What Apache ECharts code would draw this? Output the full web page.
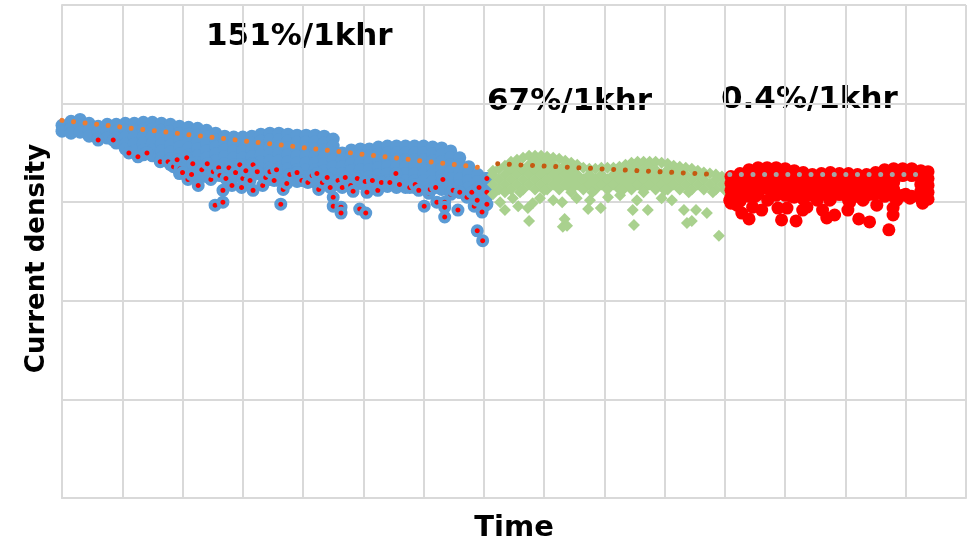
<!DOCTYPE html>
<html>
<head>
<meta charset="utf-8">
<script src="https://cdn.jsdelivr.net/npm/echarts@6/dist/echarts.min.js"></script>
<style>html,body{margin:0;padding:0;background:#fff;}#c{width:969px;height:541px;}</style>
</head>
<body>
<div id="c"></div>
<script>
// Time axis in hours, current density in arbitrary units
var xTicks = { min: 0, max: 1500, step: 100 };
var yTicks = { min: 0, max: 5, step: 1 };

// Stage 1 (151%/1khr) dense body: [time, density, density, ...]
var blueBodyCols = [
  [0, 3.78, 3.72], [15, 3.82, 3.75, 3.70], [30, 3.84, 3.77, 3.71], [45, 3.80, 3.73, 3.67],
  [60, 3.77, 3.71, 3.65], [75, 3.79, 3.72, 3.65], [90, 3.79, 3.72, 3.65, 3.60],
  [105, 3.80, 3.73, 3.66, 3.59, 3.54], [120, 3.80, 3.73, 3.66, 3.59, 3.52],
  [135, 3.81, 3.74, 3.67, 3.60, 3.53, 3.48], [150, 3.81, 3.74, 3.67, 3.60, 3.53, 3.47],
  [165, 3.80, 3.73, 3.66, 3.59, 3.52, 3.45], [180, 3.79, 3.72, 3.65, 3.58, 3.51, 3.44, 3.38],
  [195, 3.77, 3.70, 3.63, 3.56, 3.49, 3.42, 3.35, 3.29], [210, 3.76, 3.69, 3.62, 3.55, 3.48, 3.41, 3.34, 3.28],
  [225, 3.75, 3.68, 3.61, 3.54, 3.47, 3.40, 3.33, 3.27], [240, 3.73, 3.66, 3.59, 3.52, 3.45, 3.38, 3.31, 3.26],
  [255, 3.70, 3.63, 3.56, 3.49, 3.42, 3.35, 3.28], [270, 3.67, 3.60, 3.53, 3.46, 3.39, 3.32, 3.27],
  [285, 3.66, 3.59, 3.52, 3.45, 3.38, 3.31, 3.26], [300, 3.66, 3.59, 3.52, 3.45, 3.38, 3.31, 3.26],
  [315, 3.67, 3.60, 3.53, 3.46, 3.39, 3.32, 3.27], [330, 3.69, 3.62, 3.55, 3.48, 3.41, 3.34, 3.28],
  [345, 3.70, 3.63, 3.56, 3.49, 3.42, 3.35, 3.28, 3.23], [360, 3.70, 3.63, 3.56, 3.49, 3.42, 3.35, 3.28, 3.22],
  [375, 3.69, 3.62, 3.55, 3.48, 3.41, 3.34, 3.27, 3.22], [390, 3.68, 3.61, 3.54, 3.47, 3.40, 3.33, 3.26, 3.21],
  [405, 3.68, 3.61, 3.54, 3.47, 3.40, 3.33, 3.26, 3.21], [420, 3.68, 3.61, 3.54, 3.47, 3.40, 3.33, 3.26, 3.20],
  [435, 3.67, 3.60, 3.53, 3.46, 3.39, 3.32, 3.25, 3.19], [450, 3.64, 3.57, 3.50, 3.43, 3.36, 3.29, 3.22, 3.17],
  [465, 3.50, 3.43, 3.36, 3.29, 3.22, 3.17], [480, 3.53, 3.46, 3.39, 3.32, 3.25, 3.18],
  [495, 3.54, 3.47, 3.40, 3.33, 3.26, 3.19], [510, 3.54, 3.47, 3.40, 3.33, 3.26, 3.19],
  [525, 3.56, 3.49, 3.42, 3.35, 3.28, 3.21, 3.16], [540, 3.57, 3.50, 3.43, 3.36, 3.29, 3.22, 3.16],
  [555, 3.57, 3.50, 3.43, 3.36, 3.29, 3.22, 3.15], [570, 3.57, 3.50, 3.43, 3.36, 3.29, 3.22, 3.15],
  [585, 3.57, 3.50, 3.43, 3.36, 3.29, 3.22, 3.15], [600, 3.57, 3.50, 3.43, 3.36, 3.29, 3.22, 3.15],
  [615, 3.56, 3.49, 3.42, 3.35, 3.28, 3.21, 3.14], [630, 3.55, 3.48, 3.41, 3.34, 3.27, 3.20, 3.13],
  [645, 3.52, 3.45, 3.38, 3.31, 3.24, 3.17, 3.10], [660, 3.45, 3.38, 3.31, 3.24, 3.17, 3.10],
  [675, 3.36, 3.29, 3.22, 3.15, 3.08], [690, 3.28, 3.21, 3.14, 3.07, 3.01],
  [703, 3.24, 3.17, 3.10, 3.03, 2.97]
];
// Stage 1 lower scattered points: [time, density]
var blueLowPoints = [
  [60,3.63],[85,3.63],[111,3.50],[126,3.46],[141,3.50],[163,3.41],[176,3.41],[185,3.36],[191,3.43],
  [196,3.34],[200,3.30],[207,3.45],[209,3.23],[215,3.28],[217,3.39],[226,3.17],[232,3.33],[241,3.39],
  [247,3.23],[251,3.31],[254,2.97],[260,3.35],[262,3.27],[267,3.12],[267,3.00],[272,3.24],[277,3.35],
  [282,3.17],[288,3.30],[295,3.38],[298,3.15],[300,3.24],[305,3.32],[312,3.22],[317,3.38],[317,3.12],
  [324,3.31],[333,3.17],[338,3.25],[345,3.31],[352,3.22],[356,3.33],[363,2.98],[367,3.13],[373,3.19],
  [378,3.28],[390,3.30],[398,3.22],[408,3.20],[415,3.27],[423,3.29],[426,3.13],
  [432,3.20],[440,3.25],[445,3.15],[450,3.05],[450,2.96],[458,3.22],[463,2.95],[463,2.89],[465,3.15],
  [470,3.25],[479,3.17],[483,3.11],[490,3.24],[494,2.93],[503,3.21],[504,2.89],[506,3.10],[515,3.22],
  [524,3.12],[530,3.20],[544,3.20],[554,3.29],[560,3.18],[577,3.15],[586,3.18],[592,3.12],[601,2.96],
  [609,3.09],[611,3.13],[620,3.15],[622,3.00],[632,3.23],[635,3.00],[635,2.95],[635,2.85],[645,3.08],
  [649,3.12],[657,2.92],[660,3.10],[672,3.05],[680,3.10],[684,2.96],[689,3.02],[689,2.71],[692,3.15],
  [697,2.90],[698,2.61],[705,3.24],[705,3.10],[705,2.98]
];
// Stage 2 (67%/1khr) dense body
var greenBodyCols = [
  [715,3.32,3.28,3.18,3.08],[725,3.34,3.23,3.13],[735,3.37,3.28,3.18,3.10],[745,3.41,3.33,3.23,3.13],
  [755,3.43,3.38,3.28,3.18],[765,3.45,3.33,3.23,3.13],[775,3.47,3.38,3.28,3.18],[785,3.47,3.43,3.33,3.23,3.13],
  [795,3.47,3.38,3.28,3.18],[805,3.46,3.43,3.33,3.23,3.13],[815,3.45,3.38,3.28,3.18],[825,3.44,3.33,3.23,3.13],
  [835,3.42,3.38,3.28,3.18],[845,3.40,3.33,3.23,3.13],[855,3.38,3.28,3.18],[865,3.35,3.23,3.13],
  [875,3.34,3.28,3.18],[885,3.34,3.23,3.13],[895,3.35,3.28,3.18],[905,3.35,3.23,3.13],[915,3.35,3.28,3.18],
  [925,3.36,3.33,3.23,3.13],[935,3.38,3.28,3.18],[945,3.40,3.33,3.23,3.13],[955,3.41,3.38,3.28,3.18],
  [965,3.41,3.33,3.23,3.13],[975,3.41,3.38,3.28,3.18],[985,3.41,3.33,3.23,3.13],[995,3.40,3.28,3.18],
  [1005,3.39,3.33,3.23,3.13],[1015,3.37,3.28,3.18],[1025,3.36,3.33,3.23,3.13],[1035,3.35,3.28,3.18],
  [1045,3.34,3.23,3.13],[1055,3.32,3.28,3.18],[1065,3.30,3.23,3.13],[1075,3.29,3.18],[1085,3.28,3.23,3.13],
  [1095,3.26,3.18],[1105,3.24,3.18]
];
var greenLowPoints = [
  [727,3.00],[735,2.92],[748,3.04],[757,2.96],[760,3.10],[773,2.94],[775,2.81],[781,2.99],[793,3.04],
  [800,3.12],[815,3.02],[830,3.00],[831,2.75],[834,2.83],[838,2.76],[845,3.10],[854,3.04],[873,2.93],
  [876,3.02],[880,3.10],[894,2.94],[906,3.05],[926,3.07],[930,3.12],[947,2.92],[949,2.77],[954,3.02],
  [965,3.10],[972,2.92],[995,3.04],[1000,3.12],[1012,3.02],[1032,2.92],[1037,2.79],[1040,3.10],
  [1045,2.81],[1052,2.92],[1070,2.89],[1080,3.10],[1090,2.66],[1100,3.12]
];
// Stage 3 (0.4%/1khr) dense body
var redBodyCols = [
  [1110,3.26,3.19,3.12,3.05,2.99],[1125,3.29,3.22,3.15,3.08,3.01],[1140,3.33,3.26,3.19,3.12,3.06],
  [1155,3.35,3.28,3.21,3.14,3.08],[1170,3.35,3.28,3.21,3.14],[1185,3.35,3.28,3.21,3.14,3.07],
  [1200,3.34,3.27,3.20,3.13,3.07],[1215,3.32,3.25,3.18,3.11,3.05],[1230,3.30,3.23,3.16,3.09,3.03],
  [1245,3.28,3.21,3.14,3.07],[1260,3.29,3.22,3.15,3.08],[1275,3.30,3.23,3.16,3.09,3.03],
  [1290,3.29,3.22,3.15,3.08],[1305,3.29,3.22,3.15,3.08,3.02],[1320,3.28,3.21,3.14,3.07],
  [1335,3.28,3.21,3.14,3.07],[1350,3.30,3.23,3.16,3.09],[1365,3.33,3.26,3.19,3.12,3.06],
  [1380,3.34,3.27,3.20,3.13,3.06],[1395,3.34,3.27,3.07],[1410,3.34,3.27,3.06],
  [1425,3.32,3.25,3.18,3.11,3.04],[1437,3.31,3.24,3.17,3.10,3.03]
];
var redLowPoints = [
  [1108,3.02],[1120,2.97],[1128,2.89],[1140,2.83],[1146,2.95],[1150,3.06],[1161,2.92],[1171,3.02],
  [1180,3.08],[1188,2.94],[1194,2.82],[1203,2.94],[1210,3.06],[1218,2.81],[1229,2.92],[1236,2.95],
  [1245,3.08],[1253,3.02],[1262,2.92],[1269,2.84],[1274,3.02],[1282,2.87],[1290,3.08],[1304,2.92],
  [1307,3.00],[1320,3.06],[1322,2.83],[1329,3.02],[1340,2.80],[1345,3.08],[1352,2.97],[1372,2.72],
  [1379,2.94],[1379,2.87],[1385,3.02],[1400,3.08],[1407,3.04],[1427,3.02],[1428,2.99],[1435,3.05]
];
// Linear trendlines
var blueTrend = [[0, 3.83], [697, 3.35]];
var greenTrend = [[723, 3.39], [1087, 3.28]];
var redTrend = [[1108, 3.28], [1420, 3.28]];
// Annotations
var rateLabels = ['151%/1khr', '67%/1khr', '0.4%/1khr'];
var axisTitles = { x: 'Time', y: 'Current density' };

function flatten(cols) {
  var out = [];
  cols.forEach(function (c) {
    for (var i = 1; i < c.length; i++) out.push([c[0], c[i]]);
  });
  return out;
}

var chart = echarts.init(document.getElementById('c'), null, { renderer: 'canvas' });
var gridColor = '#D9D9D9';
var font = '"DejaVu Sans", Verdana, sans-serif';
function trend(data, color) {
  return {
    type: 'line', data: data, symbol: 'none', silent: true, z: 5,
    lineStyle: { color: color, width: 5, type: [0.01, 11.6], cap: 'round' }
  };
}
chart.setOption({
  animation: false,
  backgroundColor: '#fff',
  grid: { left: 62, right: 3, top: 5, bottom: 43, containLabel: false, outerBoundsMode: 'none' },
  xAxis: {
    type: 'value', min: xTicks.min, max: xTicks.max, interval: xTicks.step,
    name: axisTitles.x, nameLocation: 'middle', nameGap: 16,
    nameTextStyle: { fontFamily: font, fontWeight: 'bold', fontSize: 29, color: '#000' },
    axisLine: { show: true, lineStyle: { color: gridColor, width: 2 } },
    axisTick: { show: false }, axisLabel: { show: false },
    splitLine: { show: true, lineStyle: { color: gridColor, width: 2 } }
  },
  yAxis: {
    type: 'value', min: yTicks.min, max: yTicks.max, interval: yTicks.step,
    name: axisTitles.y, nameLocation: 'middle', nameGap: 12,
    nameTextStyle: { fontFamily: font, fontWeight: 'bold', fontSize: 26, color: '#000', padding: [0, 14, 0, 0] },
    axisLine: { show: true, lineStyle: { color: gridColor, width: 2 } },
    axisTick: { show: false }, axisLabel: { show: false },
    splitLine: { show: true, lineStyle: { color: gridColor, width: 2 } }
  },
  series: [
    { type: 'scatter', data: flatten(blueBodyCols), symbol: 'circle', symbolSize: 13,
      itemStyle: { color: '#5B9BD5', opacity: 1 }, silent: true },
    { type: 'scatter', data: blueLowPoints, symbol: 'circle', symbolSize: 9,
      itemStyle: { color: '#FF0000', borderColor: '#5B9BD5', borderWidth: 4, opacity: 1 }, silent: true },
    { type: 'scatter', data: flatten(greenBodyCols), symbol: 'diamond', symbolSize: 12,
      itemStyle: { color: '#A9D18E', opacity: 1 }, silent: true },
    { type: 'scatter', data: greenLowPoints, symbol: 'diamond', symbolSize: 12,
      itemStyle: { color: '#A9D18E', opacity: 1 }, silent: true },
    { type: 'scatter', data: flatten(redBodyCols), symbol: 'circle', symbolSize: 13,
      itemStyle: { color: '#FF0000', opacity: 1 }, silent: true },
    { type: 'scatter', data: redLowPoints, symbol: 'circle', symbolSize: 13,
      itemStyle: { color: '#FF0000', opacity: 1 }, silent: true },
    trend(blueTrend, '#ED7D31'),
    trend(greenTrend, '#C55A11'),
    trend(redTrend, '#A5A5A5')
  ],
  graphic: [
    { type: 'text', x: 206, y: 37, style: { text: rateLabels[0], font: 'bold 31px ' + font, fill: '#000', align: 'left', verticalAlign: 'middle' } },
    { type: 'text', x: 487, y: 102, style: { text: rateLabels[1], font: 'bold 31px ' + font, fill: '#000', align: 'left', verticalAlign: 'middle' } },
    { type: 'text', x: 721, y: 100, style: { text: rateLabels[2], font: 'bold 31px ' + font, fill: '#000', align: 'left', verticalAlign: 'middle' } }
  ]
});
</script>
</body>
</html>
